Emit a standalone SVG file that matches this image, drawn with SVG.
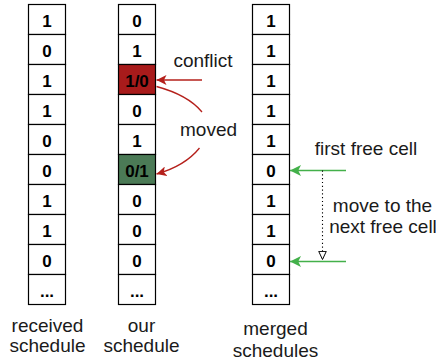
<svg xmlns="http://www.w3.org/2000/svg" width="436" height="362" viewBox="0 0 436 362">
<style>
.cell{fill:#ffffff;stroke:#000000;stroke-width:1.2}
.red{fill:#a81b1b}
.green{fill:#4b7a56}
.d{font-family:"Liberation Sans",Arial,sans-serif;font-size:17px;font-weight:bold;fill:#000;text-anchor:middle}
.t{font-family:"Liberation Sans",Arial,sans-serif;font-size:19px;fill:#1a1a1a;text-anchor:middle}
.ra{fill:none;stroke:#b5201b;stroke-width:1.3}
.ga{fill:none;stroke:#43b04a;stroke-width:1.3}
</style>
<defs>
<marker id="mr" viewBox="0 0 10 10" refX="10" refY="5" markerWidth="10" markerHeight="10" markerUnits="userSpaceOnUse" orient="auto">
<path d="M0,0 L10,5 L0,10 L2.5,5 Z" fill="#b5201b"/>
</marker>
<marker id="mg" viewBox="0 0 10 10" refX="10" refY="5" markerWidth="11" markerHeight="11" markerUnits="userSpaceOnUse" orient="auto">
<path d="M0,0 L10,5 L0,10 L2.5,5 Z" fill="#43b04a"/>
</marker>
<marker id="mo" viewBox="0 0 10 10" refX="9.5" refY="5" markerWidth="9" markerHeight="9" markerUnits="userSpaceOnUse" orient="auto">
<path d="M0.5,0.8 L9.5,5 L0.5,9.2 Z" fill="#ffffff" stroke="#000" stroke-width="1.1"/>
</marker>
</defs>

<g id="received">
<rect class="cell" x="28.5" y="4.5" width="37" height="30"/>
<rect class="cell" x="28.5" y="34.5" width="37" height="30"/>
<rect class="cell" x="28.5" y="64.5" width="37" height="30"/>
<rect class="cell" x="28.5" y="94.5" width="37" height="30"/>
<rect class="cell" x="28.5" y="124.5" width="37" height="30"/>
<rect class="cell" x="28.5" y="154.5" width="37" height="30"/>
<rect class="cell" x="28.5" y="184.5" width="37" height="30"/>
<rect class="cell" x="28.5" y="214.5" width="37" height="30"/>
<rect class="cell" x="28.5" y="244.5" width="37" height="30"/>
<rect class="cell" x="28.5" y="274.5" width="37" height="30"/>
<text class="d" x="47" y="26.5">1</text>
<text class="d" x="47" y="56.5">0</text>
<text class="d" x="47" y="86.5">1</text>
<text class="d" x="47" y="116.5">1</text>
<text class="d" x="47" y="146.5">0</text>
<text class="d" x="47" y="176.5">0</text>
<text class="d" x="47" y="206.5">1</text>
<text class="d" x="47" y="236.5">1</text>
<text class="d" x="47" y="266.5">0</text>
<text class="d" x="47" y="296.5">...</text>
<text class="t" x="47.5" y="331.5">received</text>
<text class="t" x="47.5" y="351.5">schedule</text>
</g>

<g id="ours">
<rect class="cell" x="118.5" y="4.5" width="37" height="30"/>
<rect class="cell" x="118.5" y="34.5" width="37" height="30"/>
<rect class="cell red" x="118.5" y="64.5" width="37" height="30"/>
<rect class="cell" x="118.5" y="94.5" width="37" height="30"/>
<rect class="cell" x="118.5" y="124.5" width="37" height="30"/>
<rect class="cell green" x="118.5" y="154.5" width="37" height="30"/>
<rect class="cell" x="118.5" y="184.5" width="37" height="30"/>
<rect class="cell" x="118.5" y="214.5" width="37" height="30"/>
<rect class="cell" x="118.5" y="244.5" width="37" height="30"/>
<rect class="cell" x="118.5" y="274.5" width="37" height="30"/>
<text class="d" x="137" y="26.5">0</text>
<text class="d" x="137" y="56.5">1</text>
<text class="d" x="137" y="86.5">1/0</text>
<text class="d" x="137" y="116.5">0</text>
<text class="d" x="137" y="146.5">1</text>
<text class="d" x="137" y="176.5">0/1</text>
<text class="d" x="137" y="206.5">0</text>
<text class="d" x="137" y="236.5">0</text>
<text class="d" x="137" y="266.5">0</text>
<text class="d" x="137" y="296.5">...</text>
<text class="t" x="141.5" y="331.5">our</text>
<text class="t" x="141.5" y="351.5">schedule</text>
</g>

<g id="merged">
<rect class="cell" x="252.5" y="4.5" width="37" height="30"/>
<rect class="cell" x="252.5" y="34.5" width="37" height="30"/>
<rect class="cell" x="252.5" y="64.5" width="37" height="30"/>
<rect class="cell" x="252.5" y="94.5" width="37" height="30"/>
<rect class="cell" x="252.5" y="124.5" width="37" height="30"/>
<rect class="cell" x="252.5" y="154.5" width="37" height="30"/>
<rect class="cell" x="252.5" y="184.5" width="37" height="30"/>
<rect class="cell" x="252.5" y="214.5" width="37" height="30"/>
<rect class="cell" x="252.5" y="244.5" width="37" height="30"/>
<rect class="cell" x="252.5" y="274.5" width="37" height="30"/>
<text class="d" x="271" y="26.5">1</text>
<text class="d" x="271" y="56.5">1</text>
<text class="d" x="271" y="86.5">1</text>
<text class="d" x="271" y="116.5">1</text>
<text class="d" x="271" y="146.5">1</text>
<text class="d" x="271" y="176.5">0</text>
<text class="d" x="271" y="206.5">1</text>
<text class="d" x="271" y="236.5">1</text>
<text class="d" x="271" y="266.5">0</text>
<text class="d" x="271" y="296.5">...</text>
<text class="t" x="275.5" y="335">merged</text>
<text class="t" x="275.5" y="356.5">schedules</text>
</g>

<g id="connectors">
<path class="ra" d="M202,80 L156.5,80" marker-end="url(#mr)"/>
<path class="ra" d="M156.5,86.5 Q188,95 202,112"/>
<path class="ra" d="M199.5,148 Q185,166 156.5,174" marker-end="url(#mr)"/>
<path class="ga" d="M346,170.5 L290,170.5" marker-end="url(#mg)"/>
<path class="ga" d="M346,261.5 L290,261.5" marker-end="url(#mg)"/>
<path d="M322.5,170.5 L322.5,259.5" fill="none" stroke="#000" stroke-width="1.1" stroke-dasharray="1.2,2.6" marker-end="url(#mo)"/>
</g>

<g id="labels">
<text class="t" x="203" y="66.5">conflict</text>
<text class="t" x="208.5" y="136">moved</text>
<text class="t" x="366" y="155">first free cell</text>
<text class="t" x="382.5" y="212">move to the</text>
<text class="t" x="383" y="233">next free cell</text>
</g>
</svg>
